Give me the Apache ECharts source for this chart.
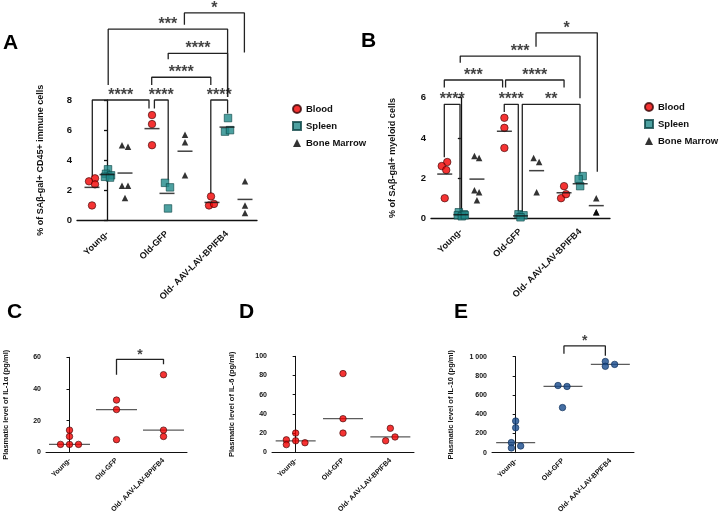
<!DOCTYPE html>
<html><head><meta charset="utf-8">
<script src="https://cdn.jsdelivr.net/npm/echarts@6/dist/echarts.min.js"></script>
<style>html,body{margin:0;padding:0;background:#fff}#c{width:720px;height:519px}</style>
</head><body><div id="c"></div>
<script>
const groups = ['Young-', 'Old-GFP', 'Old- AAV-LAV-BPIFB4'];
const tissues = ['Blood', 'Spleen', 'Bone Marrow'];

// Panel A: % of SAβ-gal+ CD45+ immune cells (per group: Young-, Old-GFP, Old-AAV)
const aBlood  = [[2.8, 2.6, 2.4, 1.0], [7.0, 6.4, 5.0], [1.6, 1.0, 1.1]];
const aSpleen = [[3.4, 3.1, 3.0, 2.9, 2.85], [2.5, 2.2, 0.8], [6.8, 5.9, 6.0]];
const aMarrow = [[5.0, 4.9, 2.3, 2.3, 1.5], [5.7, 5.2, 3.0], [2.6, 1.0, 0.5]];
const aBloodMean  = [2.2, 6.1, 1.2];
const aSpleenMean = [3.05, 1.8, 6.2];
const aMarrowMean = [3.15, 4.6, 1.4];

// Panel B: % of SAβ-gal+ myeloid cells
const bBlood  = [[2.8, 2.6, 2.4, 1.0], [5.0, 4.5, 3.5], [1.6, 1.0, 1.2]];
const bSpleen = [[0.3, 0.2, 0.15, 0.1, 0.15], [0.2, 0.15, 0.05], [2.1, 1.95, 1.6]];
const bMarrow = [[3.1, 3.0, 1.4, 1.3, 0.9], [3.0, 2.8, 1.3], [1.0, 0.3, 0.3]];
const bBloodMean  = [2.2, 4.33, 1.27];
const bSpleenMean = [0.18, 0.12, 1.72];
const bMarrowMean = [1.95, 2.37, 0.63];

// Panels C, D, E: plasmatic levels (pg/ml)
const cIL1a = [[14, 10, 5, 5, 5], [33, 27, 8], [49, 14, 10]];
const cMedian = [5, 27, 14];
const dIL6 = [[20, 13, 12, 10, 8], [82, 35, 20], [25, 16, 12]];
const dMedian = [12, 35, 16];
const eIL10 = [[330, 260, 105, 70, 50], [700, 690, 470], [950, 920, 900]];
const eMedian = [105, 690, 920];

// significance brackets (data units: x = group index, y = axis value)
const sigA = [
  {x1: -0.245, x2: 0.70, top: 8.0, l1: 2.89, l2: 7.44, t: '****'},
  {x1: 0.79, x2: 1.02, top: 8.0, l1: 7.44, l2: 2.67, t: '****'},
  {x1: 1.73, x2: 2.01, top: 8.0, l1: 1.78, l2: 7.11, t: '****'},
  {x1: 0.745, x2: 1.73, top: 9.51, l1: 9.0, l2: 9.0, t: '****'},
  {x1: 1.02, x2: 2.01, top: 11.1, l1: 10.7, l2: 8.2, t: '****'},
  {x1: 0.02, x2: 2.01, top: 12.7, l1: 9.0, l2: 8.2, t: '***'},
  {x1: 1.29, x2: 2.29, top: 13.78, l1: 13.0, l2: 11.16, t: '*'}
];
const sigB = [
  {x1: -0.277, x2: -0.014, top: 5.67, l1: 3.04, l2: 0.38, t: '****'},
  {x1: 0.728, x2: 0.963, top: 5.67, l1: 5.29, l2: 0.13, t: '****'},
  {x1: 1.03, x2: 1.997, top: 5.67, l1: 0.13, l2: 2.21, t: '**'},
  {x1: -0.277, x2: 0.70, top: 6.88, l1: 6.51, l2: 6.51, t: '***'},
  {x1: 0.75, x2: 1.73, top: 6.88, l1: 6.51, l2: 6.51, t: '****'},
  {x1: -0.01, x2: 1.997, top: 8.07, l1: 7.74, l2: 5.97, t: '***'},
  {x1: 1.26, x2: 2.287, top: 9.23, l1: 8.54, l2: 2.32, t: '*'}
];
const sigC = [{x1: 1, x2: 2, top: 58.7, l1: 49, l2: 55.6, t: '*'}];
const sigE = [{x1: 1.02, x2: 1.895, top: 1112, l1: 1031, l2: 1010, t: '*'}];

// horizontal jitter of points (px)
const aBloodJit  = [[3, -3, 3, 0], [0, 0, 0], [-1, -3, 2]];
const aSpleenJit = [[1, -1, 4, -2, 3], [-2, 3, 1], [1, -2, 3]];
const aMarrowJit = [[-3, 3, -3, 3, 0], [0, 0, 0], [0, 0, 0]];
const bBloodJit  = [[2.5, -3, 1.5, 0], [0, 0, 0], [0, -3, 2]];
const bSpleenJit = [[-2, 3, -3, 1, 4], [-2, 3, 0], [2.5, -1.5, 0]];
const bMarrowJit = [[-2.5, 2.2, -2.5, 2.2, 0], [-3, 2.5, 0], [0, 0, 0]];
const cJit = [[0, 0, -9, 0, 9], [0, 0, 0], [0, 0, 0]];
const dJit = [[0, -9.3, 0, 9.3, -9.3], [0, 0, 0], [0, 4.7, -4.7]];
const eJit = [[0, 0, -4.3, 5, -4.3], [-5, 4, -0.5], [-5, 4.3, -5]];

const FONT = '"Liberation Sans", Arial, Helvetica, sans-serif';
const INK = '#111';
const RED = {color: '#f20000', borderColor: '#3a0808', borderWidth: 0.8};
const TEAL = {color: '#21898a', borderColor: '#0c4546', borderWidth: 0.8};
const BLACK = {color: '#000'};
const BLUE = {color: '#174a8c', borderColor: '#0a2a55', borderWidth: 0.8};

const grids = [], xAxes = [], yAxes = [], series = [];

function addPanel(p) {
  const gi = grids.length;
  grids.push({left: p.left, top: p.top, width: p.width, height: p.height, outerBoundsMode: 'none', containLabel: false});
  xAxes.push({
    type: 'category', gridIndex: gi, data: groups, boundaryGap: true,
    axisLine: {lineStyle: {color: INK, width: p.axisW}},
    axisTick: {alignWithLabel: true, length: 3, lineStyle: {color: INK, width: p.axisW}},
    axisLabel: {rotate: 45, interval: 0, margin: p.xMargin, fontSize: p.xFont, fontWeight: 'bold', color: INK, fontFamily: FONT},
    splitLine: {show: false}
  });
  xAxes.push({type: 'value', gridIndex: gi, min: -0.5, max: 2.5, show: false});
  yAxes.push({
    type: 'value', gridIndex: gi, min: 0, max: p.ymax, interval: p.yint,
    name: p.yname, nameLocation: 'middle', nameGap: p.nameGap, nameMoveOverlap: false,
    nameTextStyle: {fontSize: p.nameFont, fontWeight: 'bold', color: INK, fontFamily: FONT},
    axisLine: {show: true, lineStyle: {color: INK, width: p.axisW}},
    axisTick: {show: true, length: 3, lineStyle: {color: INK, width: p.axisW}},
    axisLabel: {fontSize: p.yFont, fontWeight: 'bold', color: INK, fontFamily: FONT, margin: 5,
      formatter: v => String(v).replace(/\B(?=(\d{3})+(?!\d))/g, ' ')},
    splitLine: {show: false}
  });
  return {xi: 2 * gi + 1, yi: gi};
}

function addPoints(ax, name, vals, jit, off, symbol, size, style) {
  const data = [];
  vals.forEach((arr, g) => arr.forEach((v, k) => {
    data.push({value: [g + off, v], symbolOffset: [jit[g][k], 0]});
  }));
  series.push({type: 'scatter', name: name, xAxisIndex: ax.xi, yAxisIndex: ax.yi,
    symbol: symbol, symbolSize: size, itemStyle: style, data: data, z: 3, clip: false, silent: true});
}

function addLines(ax, centers, off, w, thick, color, z) {
  series.push({type: 'scatter', name: 'summary', xAxisIndex: ax.xi, yAxisIndex: ax.yi,
    symbol: 'rect', symbolSize: [w, thick], itemStyle: {color: color},
    data: centers.map((v, g) => [g + off, v]), z: z, clip: false, silent: true});
}

function addSig(ax, list, fs, lw, dist) {
  list.forEach(b => {
    series.push({type: 'line', name: 'bracket', xAxisIndex: ax.xi, yAxisIndex: ax.yi,
      data: [[b.x1, b.l1], [b.x1, b.top], [b.x2, b.top], [b.x2, b.l2]],
      symbol: 'none', clip: false, silent: true, z: 1, animation: false,
      lineStyle: {color: '#222', width: lw}});
  });
  series.push({type: 'scatter', name: 'sig', xAxisIndex: ax.xi, yAxisIndex: ax.yi,
    symbolSize: 1, itemStyle: {color: 'rgba(0,0,0,0)'}, clip: false, silent: true, z: 5,
    data: list.map(b => ({value: [(b.x1 + b.x2) / 2, b.top], name: b.t})),
    label: {show: true, position: 'top', distance: dist, formatter: p => p.name,
      fontSize: fs, fontWeight: 'bold', color: '#111', fontFamily: FONT}});
}

// Panel A
const axA = addPanel({left: 77, top: 100, width: 180, height: 120.5, ymax: 8, yint: 2,
  yname: '% of SAβ-gal+ CD45+ immune cells', nameGap: 32, nameFont: 9, yFont: 9.5,
  xFont: 9, xMargin: 12, axisW: 1.3});
addSig(axA, sigA, 16, 1.3, -4);
addPoints(axA, 'Blood', aBlood, aBloodJit, -0.25, 'circle', 7.5, RED);
addPoints(axA, 'Spleen', aSpleen, aSpleenJit, 0, 'rect', 7.5, TEAL);
addPoints(axA, 'Bone Marrow', aMarrow, aMarrowJit, 0.3, 'triangle', 6.5, BLACK);
addLines(axA, aBloodMean, -0.25, 15, 1.5, '#111', 4);
addLines(axA, aSpleenMean, 0, 15, 1.5, '#111', 4);
addLines(axA, aMarrowMean, 0.3, 15, 1.5, '#111', 4);

// Panel B
const axB = addPanel({left: 431, top: 97.7, width: 179, height: 120.6, ymax: 6, yint: 2,
  yname: '% of SAβ-gal+ myeloid cells', nameGap: 34, nameFont: 9, yFont: 9.5,
  xFont: 9, xMargin: 12, axisW: 1.3});
addSig(axB, sigB, 16, 1.3, -4);
addPoints(axB, 'Blood', bBlood, bBloodJit, -0.27, 'circle', 7.5, RED);
addPoints(axB, 'Spleen', bSpleen, bSpleenJit, 0, 'rect', 7.5, TEAL);
addPoints(axB, 'Bone Marrow', bMarrow, bMarrowJit, 0.27, 'triangle', 6.5, BLACK);
addLines(axB, bBloodMean, -0.27, 15, 1.5, '#111', 4);
addLines(axB, bSpleenMean, 0, 15, 1.5, '#111', 4);
addLines(axB, bMarrowMean, 0.27, 15, 1.5, '#111', 4);

// Panel C
const axC = addPanel({left: 46, top: 357.3, width: 141, height: 95, ymax: 60, yint: 20,
  yname: 'Plasmatic level of IL-1α (pg/ml)', nameGap: 36, nameFont: 7.5, yFont: 7,
  xFont: 7, xMargin: 7, axisW: 1});
addSig(axC, sigC, 14, 1.3, -3);
addLines(axC, cMedian, 0, 41, 1.3, '#333', 2);
addPoints(axC, 'IL-1α', cIL1a, cJit, 0, 'circle', 6.5, RED);

// Panel D
const axD = addPanel({left: 272, top: 356.3, width: 142, height: 96, ymax: 100, yint: 20,
  yname: 'Plasmatic level of IL-6 (pg/ml)', nameGap: 36, nameFont: 7.5, yFont: 7,
  xFont: 7, xMargin: 7, axisW: 1});
addLines(axD, dMedian, 0, 40, 1.3, '#333', 2);
addPoints(axD, 'IL-6', dIL6, dJit, 0, 'circle', 6.5, RED);

// Panel E
const axE = addPanel({left: 492, top: 356.7, width: 142, height: 96, ymax: 1000, yint: 200,
  yname: 'Plasmatic level of IL-10 (pg/ml)', nameGap: 37, nameFont: 7.5, yFont: 7,
  xFont: 7, xMargin: 7, axisW: 1});
addSig(axE, sigE, 14, 1.3, -3);
addLines(axE, eMedian, 0, 39, 1.3, '#333', 2);
addPoints(axE, 'IL-10', eIL10, eJit, 0, 'circle', 6.5, BLUE);

const letterStyle = (t, x, y) => ({type: 'text', left: x, top: y, silent: true,
  style: {text: t, fontSize: 21, fontWeight: 'bold', fontFamily: FONT, fill: '#000'}});

const legendBase = {orient: 'vertical', itemWidth: 8, itemHeight: 8, itemGap: 7,
  selectedMode: false, data: tissues,
  textStyle: {fontSize: 9.5, fontWeight: 'bold', color: INK, fontFamily: FONT}};

const chart = echarts.init(document.getElementById('c'), null, {renderer: 'canvas'});
chart.setOption({
  animation: false,
  backgroundColor: '#fff',
  grid: grids, xAxis: xAxes, yAxis: yAxes, series: series,
  legend: [
    Object.assign({left: 287, top: 99}, legendBase),
    Object.assign({left: 639, top: 97}, legendBase)
  ],
  graphic: [
    letterStyle('A', 3, 33),
    letterStyle('B', 361, 31),
    letterStyle('C', 7, 302),
    letterStyle('D', 239, 302),
    letterStyle('E', 454, 302)
  ]
});
</script></body></html>
